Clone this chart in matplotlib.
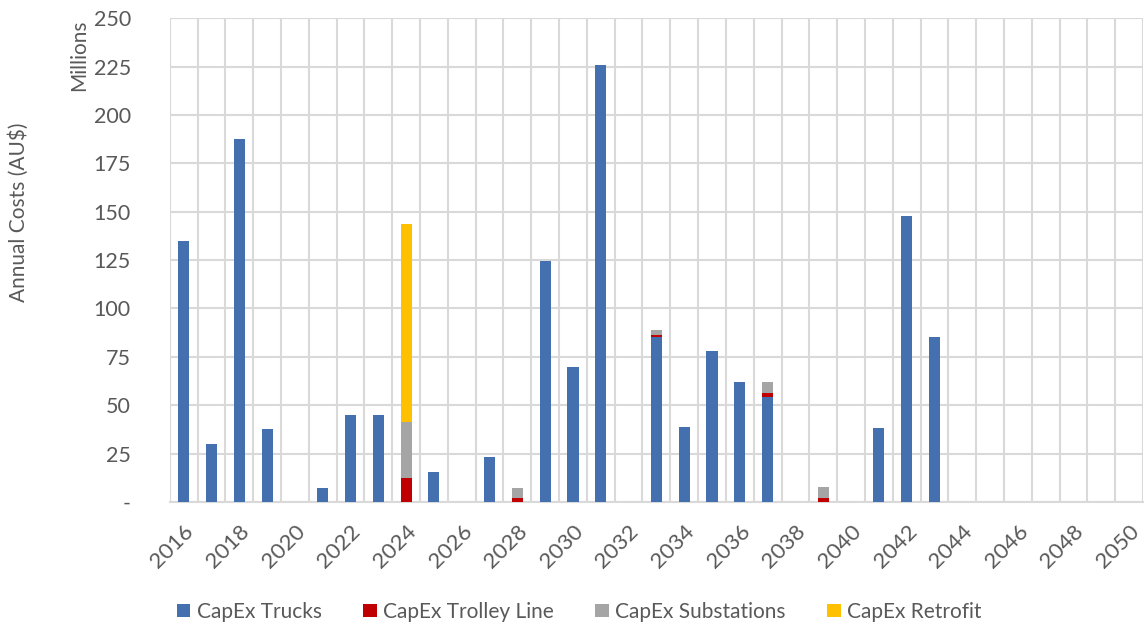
import matplotlib.pyplot as plt
import numpy as np

plt.rcParams['font.family'] = ['Lato', 'DejaVu Sans']

years = list(range(2016, 2051))

# annual capex by category, millions AU$
trucks = [135, 30, 187.5, 37.5, 0, 7.2, 45, 45, 0, 15.5, 0, 23.2, 0, 124.5, 70,
          226, 0, 85.5, 38.6, 77.8, 62, 54.2, 0, 0, 0, 38.5, 148, 85.5,
          0, 0, 0, 0, 0, 0, 0]
trolley = [0, 0, 0, 0, 0, 0, 0, 0, 12.5, 0, 0, 0, 2, 0, 0,
           0, 0, 0.7, 0, 0, 0, 2.3, 0, 2.2, 0, 0, 0, 0,
           0, 0, 0, 0, 0, 0, 0]
substations = [0, 0, 0, 0, 0, 0, 0, 0, 29, 0, 0, 0, 5.5, 0, 0,
               0, 0, 2.6, 0, 0, 0, 5.5, 0, 5.4, 0, 0, 0, 0,
               0, 0, 0, 0, 0, 0, 0]
retrofit = [0, 0, 0, 0, 0, 0, 0, 0, 102, 0, 0, 0, 0, 0, 0,
            0, 0, 0, 0, 0, 0, 0, 0, 0, 0, 0, 0, 0,
            0, 0, 0, 0, 0, 0, 0]

series = [
    ('CapEx Trucks', trucks, '#4570B0'),
    ('CapEx Trolley Line', trolley, '#C00000'),
    ('CapEx Substations', substations, '#A5A5A5'),
    ('CapEx Retrofit', retrofit, '#FFC000'),
]

txt = '#595959'
grid = '#D9D9D9'

fig = plt.figure(figsize=(11.47, 6.28), dpi=100)
ax = fig.add_axes([0.148, 0.2006, 0.8485, 0.7704])

x = np.arange(len(years))
bottom = np.zeros(len(years))
for name, vals, col in series:
    vals = np.array(vals, dtype=float)
    ax.bar(x, vals, 0.4, bottom=bottom, color=col, label=name, zorder=3)
    bottom += vals

ax.set_xlim(-0.5, len(years) - 0.5)
ax.set_ylim(0, 250)

# gridlines between categories
for b in np.arange(-0.5, len(years) + 0.5, 1):
    ax.axvline(b, color=grid, lw=1.5, zorder=1)
ax.set_yticks(np.arange(0, 251, 25))
ax.set_yticklabels(['-'] + [str(v) for v in range(25, 251, 25)])
ax.yaxis.grid(True, color=grid, lw=1.5, zorder=1)

ax.set_xticks(x[::2])
ax.set_xticklabels([str(y) for y in years[::2]], rotation=45, ha='right',
                   rotation_mode='anchor')

for s in ['top', 'right', 'left']:
    ax.spines[s].set_visible(False)
ax.spines['bottom'].set_color(grid)
ax.spines['bottom'].set_linewidth(1.5)
ax.tick_params(length=0, labelsize=15.5, colors=txt)
ax.tick_params(axis='x', pad=14, labelsize=16)
ax.tick_params(axis='y', pad=28)

fig.text(0.016, 0.662, 'Annual Costs (AU$)', rotation=90, ha='center', va='center',
         fontsize=15, color=txt)
fig.text(0.069, 0.912, 'Millions', rotation=90, ha='center', va='center',
         fontsize=15, color=txt)

fig.legend(loc='lower center', bbox_to_anchor=(0.505, -0.02), ncol=4, frameon=False,
           fontsize=15, labelcolor=txt, handlelength=0.65, handleheight=0.65,
           handletextpad=0.3, columnspacing=2.0)

fig.savefig('out.png', dpi=100)
